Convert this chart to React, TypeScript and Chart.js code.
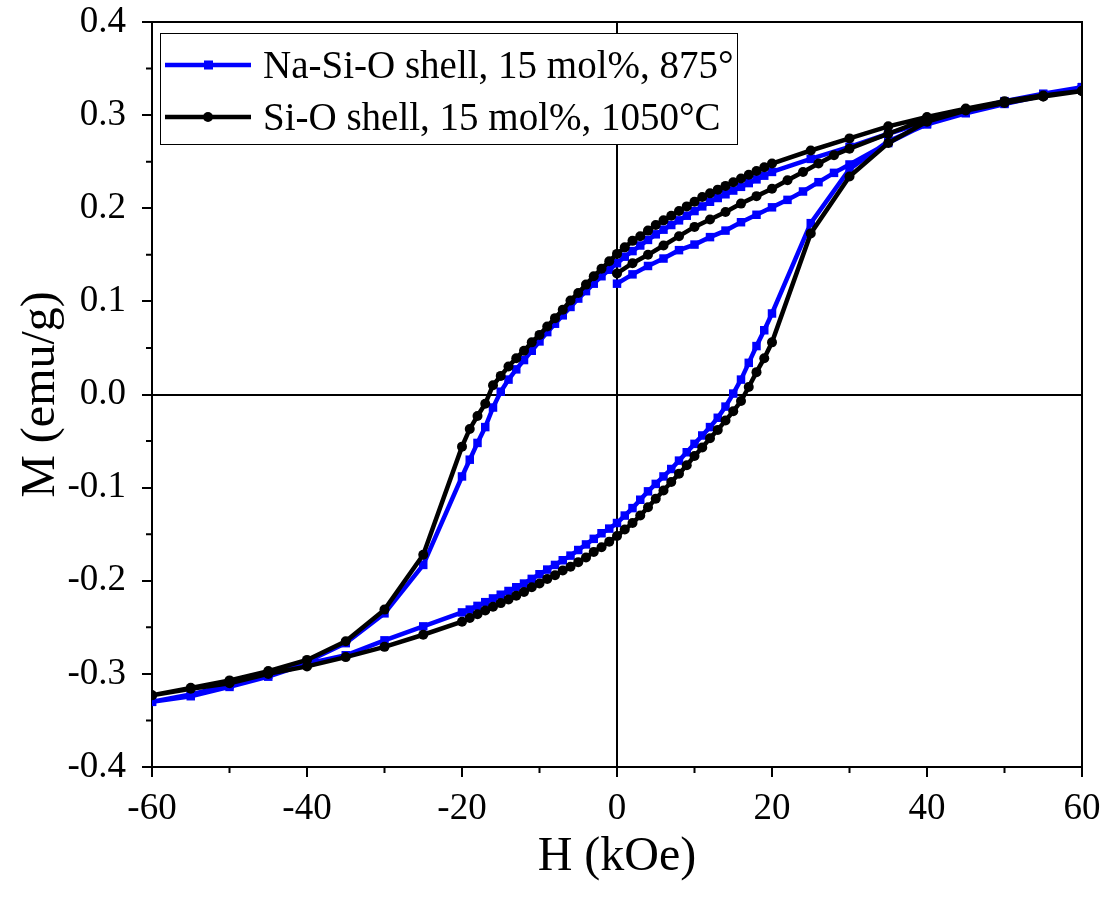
import React, { useEffect, useRef } from "react";
import { Chart, registerables } from "chart.js";

Chart.register(...registerables);

// ---- Data (H in kOe, M in emu/g) ----
const H_INIT = [0, 2, 4, 6, 8, 10, 12, 14, 16, 18, 20, 22, 24, 26, 28, 30, 35, 40, 45, 50, 55, 60];
const H_DESC = [60, 55, 50, 45, 40, 35, 30, 25, 20, 19, 18, 17, 16, 15, 14, 13, 12, 11, 10, 9, 8, 7, 6, 5, 4, 3, 2, 1, 0, -1, -2, -3, -4, -5, -6, -7, -8, -9, -10, -11, -12, -13, -14, -15, -16, -17, -18, -19, -20, -25, -30, -35, -40, -45, -50, -55, -60];
const H_ASC = [-60, -55, -50, -45, -40, -35, -30, -25, -20, -19, -18, -17, -16, -15, -14, -13, -12, -11, -10, -9, -8, -7, -6, -5, -4, -3, -2, -1, 0, 1, 2, 3, 4, 5, 6, 7, 8, 9, 10, 11, 12, 13, 14, 15, 16, 17, 18, 19, 20, 25, 30, 35, 40, 45, 50, 55, 60];

// Na-Si-O shell, 15 mol%, 875°
const NA_INIT = [0.119, 0.129, 0.138, 0.146, 0.155, 0.161, 0.169, 0.176, 0.185, 0.193, 0.201, 0.209, 0.218, 0.228, 0.238, 0.247, 0.270, 0.291, 0.303, 0.313, 0.322, 0.330];
const NA_DESC = [0.330, 0.323, 0.315, 0.305, 0.293, 0.280, 0.266, 0.253,
  0.239, 0.235, 0.231, 0.227, 0.223, 0.219, 0.215, 0.211, 0.207, 0.202, 0.197, 0.192, 0.187, 0.182, 0.177, 0.172, 0.166, 0.160, 0.154, 0.148, 0.141,
  0.134, 0.127, 0.119, 0.111, 0.103, 0.094, 0.085, 0.076, 0.067, 0.057, 0.047, 0.037, 0.027, 0.016, 0.003, -0.014, -0.035, -0.052, -0.070, -0.088,
  -0.183, -0.235, -0.267, -0.287, -0.301, -0.312, -0.322, -0.330];
const NA_ASC = [-0.330, -0.324, -0.314, -0.303, -0.289, -0.280, -0.264, -0.249,
  -0.234, -0.231, -0.227, -0.223, -0.219, -0.215, -0.211, -0.207, -0.203, -0.198, -0.193, -0.188, -0.183, -0.178, -0.173, -0.167, -0.161, -0.155, -0.149, -0.144, -0.138,
  -0.130, -0.122, -0.113, -0.104, -0.096, -0.088, -0.080, -0.071, -0.062, -0.053, -0.044, -0.035, -0.025, -0.013, 0.001, 0.016, 0.034, 0.052, 0.069, 0.087,
  0.184, 0.242, 0.272, 0.290, 0.302, 0.312, 0.321, 0.330];

// Si-O shell, 15 mol%, 1050°C
const SI_INIT = [0.130, 0.141, 0.150, 0.160, 0.170, 0.180, 0.188, 0.196, 0.205, 0.213, 0.221, 0.230, 0.239, 0.248, 0.257, 0.264, 0.280, 0.296, 0.306, 0.314, 0.320, 0.326];
const SI_DESC = [0.326, 0.321, 0.315, 0.307, 0.298, 0.288, 0.275, 0.262,
  0.248, 0.244, 0.240, 0.236, 0.232, 0.228, 0.224, 0.220, 0.216, 0.212, 0.207, 0.202, 0.197, 0.192, 0.187, 0.182, 0.176, 0.170, 0.165, 0.158, 0.151,
  0.143, 0.135, 0.127, 0.118, 0.109, 0.101, 0.091, 0.082, 0.073, 0.064, 0.056, 0.047, 0.039, 0.030, 0.020, 0.010, -0.010, -0.023, -0.037, -0.056,
  -0.172, -0.231, -0.265, -0.285, -0.297, -0.307, -0.315, -0.323];
const SI_ASC = [-0.323, -0.316, -0.310, -0.300, -0.292, -0.282, -0.271, -0.258,
  -0.244, -0.240, -0.236, -0.232, -0.228, -0.224, -0.220, -0.216, -0.212, -0.207, -0.203, -0.198, -0.194, -0.189, -0.185, -0.180, -0.175, -0.169, -0.164, -0.158, -0.152,
  -0.145, -0.138, -0.130, -0.121, -0.112, -0.103, -0.094, -0.085, -0.076, -0.066, -0.057, -0.047, -0.038, -0.028, -0.018, -0.007, 0.008, 0.024, 0.039, 0.056,
  0.173, 0.234, 0.270, 0.293, 0.305, 0.313, 0.320, 0.326];

const LABEL_NA = "Na-Si-O shell, 15 mol%, 875°";
const LABEL_SI = "Si-O shell, 15 mol%, 1050°C";
const X_TITLE = "H (kOe)";
const Y_TITLE = "M (emu/g)";
const X_MINOR = [-50, -30, -10, 10, 30, 50];
const Y_MINOR = [-0.35, -0.25, -0.15, -0.05, 0.05, 0.15, 0.25, 0.35];

const FONT = '"Liberation Serif", "Times New Roman", serif';
const BLUE = "#0000ff";
const BLACK = "#000000";

function toPoints(hs: number[][], ms: number[][]) {
  const pts: { x: number; y: number }[] = [];
  hs.forEach((h, k) => h.forEach((x, i) => pts.push({ x, y: ms[k][i] })));
  return pts;
}

const framePlugin = {
  id: "frame",
  beforeDatasetsDraw(chart: any) {
    const { ctx, chartArea: a, scales } = chart;
    const x0 = Math.round(scales.x.getPixelForValue(0));
    const y0 = Math.round(scales.y.getPixelForValue(0));
    ctx.save();
    ctx.strokeStyle = "#000";
    ctx.lineWidth = 2;
    ctx.beginPath();
    ctx.moveTo(x0, a.top);
    ctx.lineTo(x0, a.bottom);
    ctx.moveTo(a.left, y0);
    ctx.lineTo(a.right, y0);
    ctx.stroke();
    ctx.restore();
  },
  afterDraw(chart: any) {
    const { ctx, chartArea: a, scales } = chart;
    ctx.save();
    ctx.strokeStyle = "#000";
    ctx.lineWidth = 2;
    ctx.beginPath();
    // top and right frame
    ctx.moveTo(a.left, a.top);
    ctx.lineTo(a.right, a.top);
    ctx.lineTo(a.right, a.bottom);
    // minor ticks
    X_MINOR.forEach((v) => {
      const px = scales.x.getPixelForValue(v);
      ctx.moveTo(px, a.bottom);
      ctx.lineTo(px, a.bottom + 6);
    });
    Y_MINOR.forEach((v) => {
      const py = scales.y.getPixelForValue(v);
      ctx.moveTo(a.left, py);
      ctx.lineTo(a.left - 6, py);
    });
    ctx.stroke();

    // legend
    const lx = 160, ly = 33, lw = 577, lh = 111;
    ctx.fillStyle = "#fff";
    ctx.fillRect(lx, ly, lw, lh);
    ctx.lineWidth = 1;
    ctx.strokeRect(lx + 0.5, ly + 0.5, lw, lh);
    const rows = [
      { label: LABEL_NA, color: BLUE, y: 65, marker: "rect" },
      { label: LABEL_SI, color: BLACK, y: 117, marker: "circle" },
    ];
    rows.forEach((r) => {
      ctx.strokeStyle = r.color;
      ctx.fillStyle = r.color;
      ctx.lineWidth = 4.5;
      ctx.beginPath();
      ctx.moveTo(165, r.y);
      ctx.lineTo(251, r.y);
      ctx.stroke();
      if (r.marker === "rect") {
        ctx.fillRect(204, r.y - 4.5, 9, 9);
      } else {
        ctx.beginPath();
        ctx.arc(208, r.y, 5, 0, Math.PI * 2);
        ctx.fill();
      }
      ctx.fillStyle = "#000";
      ctx.font = `39px ${FONT}`;
      ctx.textBaseline = "alphabetic";
      ctx.textAlign = "left";
      ctx.fillText(r.label, 263, r.y + 13);
    });
    ctx.restore();
  },
};

export default function App() {
  const ref = useRef<HTMLCanvasElement | null>(null);
  useEffect(() => {
    if (!ref.current) return;
    const chart = new Chart(ref.current, {
      type: "scatter",
      data: {
        datasets: [
          {
            label: LABEL_NA,
            data: toPoints([H_INIT, H_DESC, H_ASC], [NA_INIT, NA_DESC, NA_ASC]),
            showLine: true,
            borderColor: BLUE,
            backgroundColor: BLUE,
            borderWidth: 4.5,
            pointStyle: "rect",
            pointRadius: 6,
            pointBorderWidth: 0,
            order: 1,
          },
          {
            label: LABEL_SI,
            data: toPoints([H_INIT, H_DESC, H_ASC], [SI_INIT, SI_DESC, SI_ASC]),
            showLine: true,
            borderColor: BLACK,
            backgroundColor: BLACK,
            borderWidth: 4.5,
            pointStyle: "circle",
            pointRadius: 5,
            pointBorderWidth: 0,
            order: 0,
          },
        ],
      },
      options: {
        responsive: false,
        animation: false,
        events: [],
        layout: { padding: { top: 22, right: 30, left: 0, bottom: 0 } },
        plugins: { legend: { display: false }, tooltip: { enabled: false } },
        scales: {
          x: {
            type: "linear",
            min: -60,
            max: 60,
            afterFit: (s: any) => {
              s.height = 136;
              s.paddingLeft = 0;
              s.paddingRight = 0;
            },
            border: { display: true, color: "#000", width: 2 },
            grid: { display: true, drawOnChartArea: false, drawTicks: true, tickLength: 10, color: "#000", lineWidth: 2 },
            ticks: {
              stepSize: 20,
              color: "#000",
              padding: 10,
              font: { family: FONT, size: 37 },
              callback: (v: any) => String(v),
            },
            title: {
              display: true,
              text: X_TITLE,
              color: "#000",
              font: { family: FONT, size: 48 },
              padding: { top: 0, bottom: 17 },
            },
          },
          y: {
            type: "linear",
            min: -0.4,
            max: 0.4,
            afterFit: (s: any) => {
              s.width = 152;
              s.paddingTop = 0;
              s.paddingBottom = 0;
            },
            border: { display: true, color: "#000", width: 2 },
            grid: { display: true, drawOnChartArea: false, drawTicks: true, tickLength: 10, color: "#000", lineWidth: 2 },
            ticks: {
              stepSize: 0.1,
              color: "#000",
              padding: 16,
              font: { family: FONT, size: 37 },
              callback: (v: any) => (Math.abs(Number(v)) < 1e-9 ? "0.0" : Number(v).toFixed(1)),
            },
            title: {
              display: true,
              text: Y_TITLE,
              color: "#000",
              font: { family: FONT, size: 48 },
              padding: { top: 13, bottom: 0 },
            },
          },
        },
      },
      plugins: [framePlugin],
    });
    return () => chart.destroy();
  }, []);
  return (
    <div style={{ position: "absolute", left: 0, top: 0, width: 1112, height: 903, background: "#fff" }}>
      <canvas ref={ref} width={1112} height={903} style={{ display: "block" }} />
    </div>
  );
}
